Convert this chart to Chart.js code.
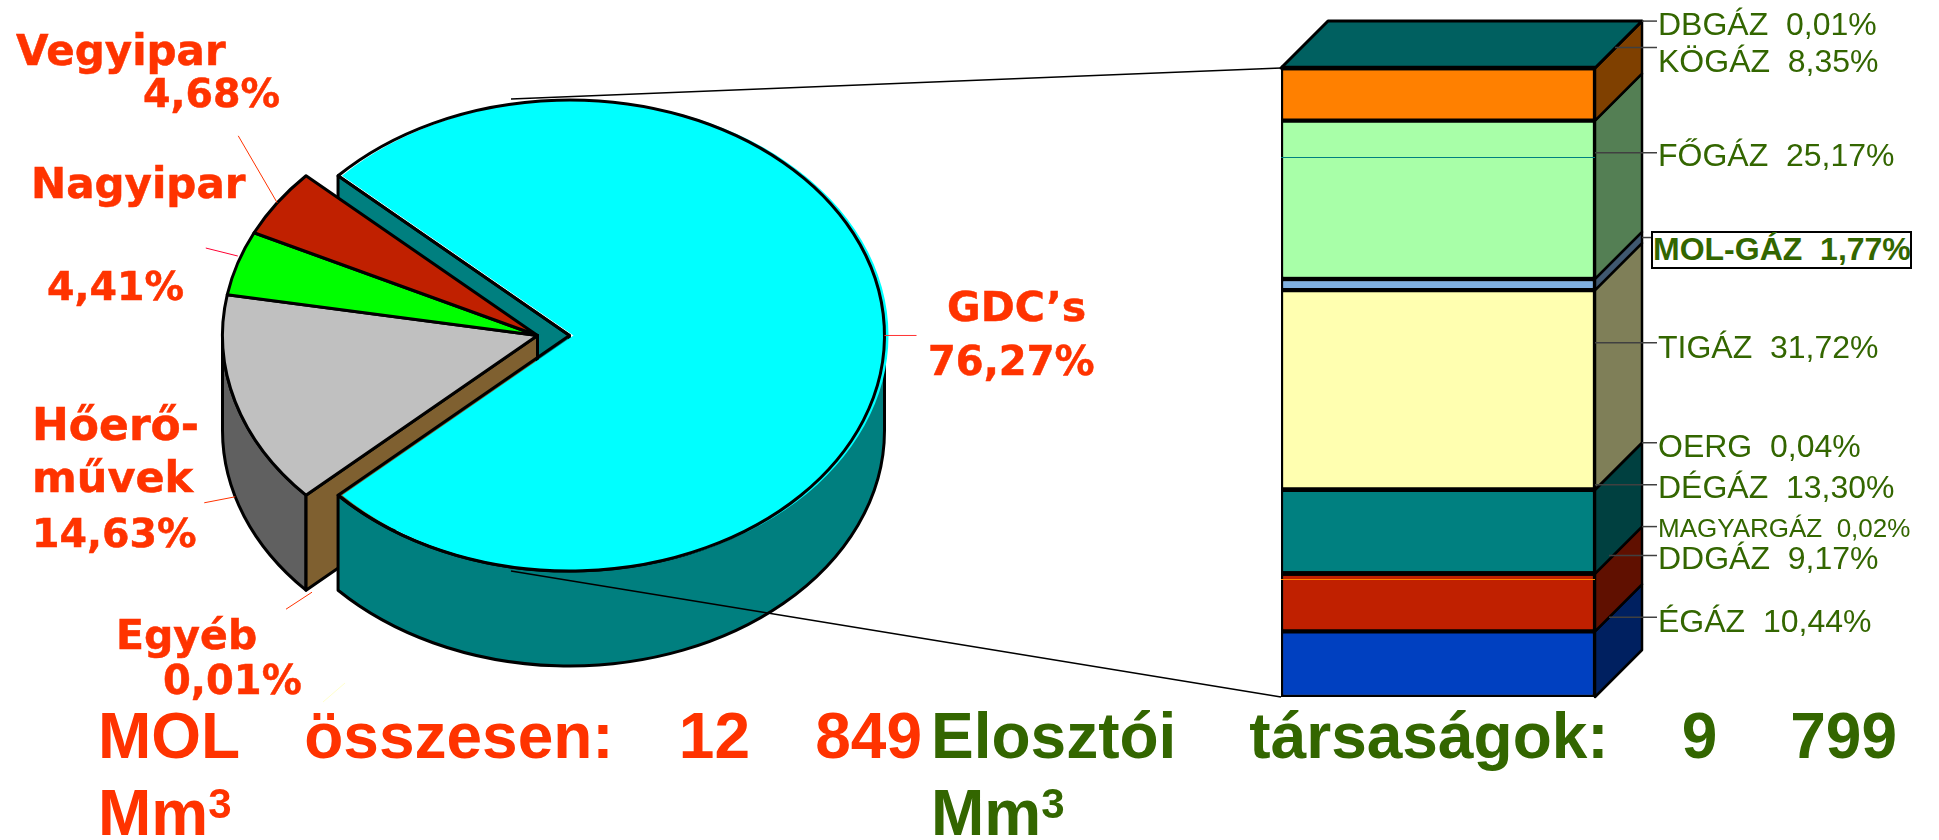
<!DOCTYPE html>
<html lang="hu">
<head>
<meta charset="utf-8">
<title>MOL és elosztói társaságok</title>
<script src="https://cdn.jsdelivr.net/npm/chart.js@4"></script>
<style>
html,body{margin:0;padding:0;background:#fff;width:1939px;height:840px;overflow:hidden}
canvas{position:absolute;left:0;top:0}
.t{position:absolute;white-space:pre;margin:0}
.pie{font:bold 41px "DejaVu Sans",sans-serif;color:#FF3300;-webkit-text-stroke:0.5px #FF3300}
.bar{font:32px "Liberation Sans",Arial,sans-serif;color:#336600}
.foot{position:absolute;font:bold 64px/77px "Liberation Sans",Arial,sans-serif}
.foot div{text-align:justify;text-align-last:justify;white-space:normal}
.foot div+div{text-align:left;text-align-last:left}
.foot span{font-size:42px;position:relative;top:-17px}
#box{position:absolute;border:2px solid #000;box-sizing:border-box;background:#fff}
</style>
</head>
<body>
<canvas id="pieCanvas" width="1939" height="840"></canvas>
<canvas id="barCanvas" width="1939" height="840"></canvas>
<div id="box" style="left:1651px;top:231px;width:261px;height:38px"></div>
<script>
// ---- data -----------------------------------------------------------
const pieLabels = ['GDC’s', 'Egyéb', 'Hőerő-\nművek', 'Nagyipar', 'Vegyipar'];
const pieValues = [76.27, 0.01, 14.63, 4.41, 4.68];
const pieColors = ['#00FFFF', '#FFC060', '#C0C0C0', '#00FF00', '#C02000'];

const barLabels = ['ÉGÁZ', 'DDGÁZ', 'MAGYARGÁZ', 'DÉGÁZ', 'OERG', 'TIGÁZ', 'MOL-GÁZ', 'FŐGÁZ', 'KÖGÁZ', 'DBGÁZ'];
const barValues = [10.44, 9.17, 0.02, 13.30, 0.04, 31.72, 1.77, 25.17, 8.35, 0.01];
const barColors = ['#0040C0', '#C02000', '#FF8000', '#008080', '#CCFFCC', '#FFFFB0', '#80B0E0', '#A8FFA8', '#FF8000', '#00C0C0'];

const footLeft = ['MOL összesen: 12 849', 'Mm', '3'];
const footRight = ['Elosztói társaságok: 9 799', 'Mm', '3'];

// ---- layout ---------------------------------------------------------
const PIE_TILT = 0.7476, PIE_DEPTH = 95, PIE_RADIUS = 315, PIE_ROTATION = 312.71;
const EXPLODE = [32, 0, 0, 0, 0];
const FILL_SHIFT = [4, 0, 0, 0, 0];
// [start dx, start dy, run x, run y, colour]
const PIE_LEADERS = [
  [0, 0, 32, 0, '#FF3333'],
  [6, 2, -26, 17, '#FF3300'],
  [0, 0, -31, 6, '#FF3300'],
  [0, -7, -32, -8, '#FF0033'],
  [0, 0, -39, -67, '#FF3300']
];
const STRAY_LEADER = [[323, 702], [345, 683], '#FFFFCC'];
// [x, baseline, font size] for each text line
const PIE_TEXT = [
  [[947, 321, 41], [928, 375, 40]],
  [[116, 649, 41], [163, 694, 40]],
  [[32, 440, 44], [32, 492, 43], [32, 547, 39.5]],
  [[31, 198, 42], [47, 300, 39.5]],
  [[16, 65, 42], [143, 107, 39.5]]
];
const BAR_DX = 47, BAR_DY = 47, LEADER_END = 1657;
const BAR_LEADER_INSET = [14, 14, 47, 0, 47, 0, 47, 0, 20, 47];
const BAR_TEXT_BASE = [632, 569, 537, 498, 457, 358, 260, 166, 72, 35];
const BAR_TEXT_X = [1658, 1658, 1658, 1658, 1658, 1658, 1651, 1658, 1658, 1658];
const HAIRLINES = [[85.85, '#008080'], [18.76, '#FF8000']];

// ---- helpers --------------------------------------------------------
const fmt = v => v.toFixed(2).replace('.', ',') + '%';
function half(hex) {
  const n = parseInt(hex.slice(1), 16);
  return `rgb(${(n >> 16) >> 1},${((n >> 8) & 255) >> 1},${(n & 255) >> 1})`;
}
function placeText(text, x, base, cls, extra) {
  const d = document.createElement('div');
  d.className = 't ' + cls;
  d.textContent = text;
  if (extra) d.style.cssText = extra;
  d.style.left = x + 'px';
  d.style.top = '0px';
  const probe = document.createElement('i');
  probe.style.cssText = 'display:inline-block;width:0;height:0';
  d.appendChild(probe);
  document.body.appendChild(d);
  d.style.top = (base - probe.getBoundingClientRect().bottom) + 'px';
}

// ---- pie ------------------------------------------------------------
function polygon(ctx, pts, fill) {
  ctx.beginPath();
  pts.forEach((p, i) => i ? ctx.lineTo(p[0], p[1]) : ctx.moveTo(p[0], p[1]));
  ctx.closePath();
  ctx.fillStyle = fill;
  ctx.fill();
  ctx.stroke();
}
function radialFace(ctx, cx, cy, R, a, fill) {
  const px = cx + R * Math.cos(a), py = cy + R * PIE_TILT * Math.sin(a);
  polygon(ctx, [[cx, cy], [px, py], [px, py + PIE_DEPTH], [cx, cy + PIE_DEPTH]], fill);
}
function outerWall(ctx, cx, cy, R, a0, a1, fill) {
  for (let k = 0; k < 3; k++) {
    const s = Math.max(a0, 2 * k * Math.PI), e = Math.min(a1, (2 * k + 1) * Math.PI);
    if (e <= s) continue;
    ctx.beginPath();
    ctx.ellipse(cx, cy, R, R * PIE_TILT, 0, s, e);
    ctx.ellipse(cx, cy + PIE_DEPTH, R, R * PIE_TILT, 0, e, s, true);
    ctx.closePath();
    ctx.fillStyle = fill;
    ctx.fill();
    ctx.stroke();
  }
}
const pie3d = {
  id: 'pie3d',
  beforeDatasetsDraw(chart) {
    const ctx = chart.ctx, arcs = chart.getDatasetMeta(0).data;
    ctx.save();
    ctx.strokeStyle = '#000';
    ctx.lineWidth = 3;
    ctx.lineJoin = 'round';
    const cxOf = i => arcs[i].x + EXPLODE[i];
    // hidden faces first, nearest last
    radialFace(ctx, cxOf(0), arcs[0].y, arcs[0].outerRadius, arcs[0].startAngle, half(pieColors[0]));
    [2, 3, 4].forEach(i => outerWall(ctx, cxOf(i), arcs[i].y, arcs[i].outerRadius, arcs[i].startAngle, arcs[i].endAngle, half(pieColors[i])));
    radialFace(ctx, cxOf(1), arcs[1].y, arcs[1].outerRadius, arcs[1].startAngle, half(pieColors[1]));
    outerWall(ctx, cxOf(0), arcs[0].y, arcs[0].outerRadius, arcs[0].startAngle, arcs[0].endAngle, half(pieColors[0]));
    // top faces through the library's own arc elements
    arcs.forEach((arc, i) => {
      ctx.save();
      ctx.translate(arc.x + EXPLODE[i] + FILL_SHIFT[i], arc.y);
      ctx.scale(1, PIE_TILT);
      ctx.translate(-arc.x, -arc.y);
      arc.draw(ctx);
      ctx.restore();
      if (pieValues[i] < 0.1) return;
      ctx.beginPath();
      ctx.moveTo(cxOf(i), arc.y);
      ctx.ellipse(cxOf(i), arc.y, arc.outerRadius, arc.outerRadius * PIE_TILT, 0, arc.startAngle, arc.endAngle);
      ctx.closePath();
      ctx.stroke();
    });
    // leaders
    ctx.lineWidth = 1;
    arcs.forEach((arc, i) => {
      const mid = (arc.startAngle + arc.endAngle) / 2;
      const L = PIE_LEADERS[i];
      const x = cxOf(i) + arc.outerRadius * Math.cos(mid) + L[0];
      let y = arc.y + arc.outerRadius * PIE_TILT * Math.sin(mid) + L[1];
      if (Math.sin(mid) > 0.01) y += PIE_DEPTH;
      ctx.beginPath();
      ctx.moveTo(x, y);
      ctx.lineTo(x + L[2], y + L[3]);
      ctx.strokeStyle = L[4];
      ctx.stroke();
    });
    ctx.beginPath();
    ctx.moveTo(STRAY_LEADER[0][0], STRAY_LEADER[0][1]);
    ctx.lineTo(STRAY_LEADER[1][0], STRAY_LEADER[1][1]);
    ctx.strokeStyle = STRAY_LEADER[2];
    ctx.stroke();
    ctx.restore();
    return false;
  }
};
const pieChart = new Chart(document.getElementById('pieCanvas'), {
  type: 'pie',
  data: {
    labels: pieLabels,
    datasets: [{ data: pieValues, backgroundColor: pieColors, borderWidth: 0, radius: PIE_RADIUS }]
  },
  options: {
    responsive: false,
    animation: false,
    rotation: PIE_ROTATION,
    radius: PIE_RADIUS,
    layout: { padding: { left: 0, top: 0, right: 864, bottom: 169 } },
    plugins: { legend: { display: false }, tooltip: { enabled: false } }
  },
  plugins: [pie3d]
});

// ---- stacked bar ----------------------------------------------------
const bar3d = {
  id: 'bar3d',
  afterDatasetsDraw(chart) {
    const ctx = chart.ctx, yS = chart.scales.y;
    const bars = chart.data.datasets.map((d, i) => chart.getDatasetMeta(i).data[0]);
    ctx.save();
    ctx.strokeStyle = '#000';
    ctx.lineJoin = 'round';
    ctx.lineWidth = 2.5;
    const right = bars[0].x + bars[0].width / 2, left = bars[0].x - bars[0].width / 2;
    // side wall, bottom to top
    bars.forEach((b, i) => {
      polygon(ctx, [[right, b.base], [right + BAR_DX, b.base - BAR_DY], [right + BAR_DX, b.y - BAR_DY], [right, b.y]], half(barColors[i]));
    });
    // top face
    const top = bars[bars.length - 1];
    ctx.lineWidth = 3;
    polygon(ctx, [[left, top.y], [left + BAR_DX, top.y - BAR_DY], [right + BAR_DX, top.y - BAR_DY], [right, top.y]], half(barColors[bars.length - 1]));
    // very thin segments read as a heavy rule
    ctx.lineWidth = 4.5;
    bars.forEach(b => {
      if (b.base - b.y < 3) {
        ctx.beginPath();
        ctx.moveTo(left, (b.base + b.y) / 2);
        ctx.lineTo(right, (b.base + b.y) / 2);
        ctx.stroke();
      }
    });
    // hairlines across the front
    ctx.lineWidth = 1;
    HAIRLINES.forEach(h => {
      const y = Math.round(yS.getPixelForValue(h[0])) + 0.5;
      ctx.strokeStyle = h[1];
      ctx.beginPath();
      ctx.moveTo(left, y);
      ctx.lineTo(right, y);
      ctx.stroke();
    });
    // label leaders
    ctx.strokeStyle = '#404040';
    ctx.lineWidth = 1.5;
    bars.forEach((b, i) => {
      const y = (b.base + b.y) / 2 - BAR_DY;
      ctx.beginPath();
      ctx.moveTo(right + BAR_LEADER_INSET[i], y);
      ctx.lineTo(BAR_TEXT_X[i] > LEADER_END ? LEADER_END : BAR_TEXT_X[i] + 1, y);
      ctx.stroke();
    });
    // connectors from the pie to the column
    const arc = pieChart.getDatasetMeta(0).data[0];
    const ry = arc.outerRadius * PIE_TILT, startX = arc.x - 26.5;
    ctx.strokeStyle = '#000';
    ctx.lineWidth = 1.3;
    ctx.beginPath();
    ctx.moveTo(startX, arc.y - ry - 1);
    ctx.lineTo(left, yS.getPixelForValue(100));
    ctx.moveTo(startX, arc.y + ry);
    ctx.lineTo(left, yS.getPixelForValue(0));
    ctx.stroke();
    ctx.restore();
  }
};
new Chart(document.getElementById('barCanvas'), {
  type: 'bar',
  data: {
    labels: ['Elosztói társaságok'],
    datasets: barLabels.map((name, i) => ({
      label: name,
      data: [barValues[i]],
      backgroundColor: barColors[i],
      borderColor: '#000',
      borderWidth: { top: 2.5, bottom: 2.5, left: 2.5, right: 2.5 },
      borderSkipped: false,
      barPercentage: 1,
      categoryPercentage: 1
    }))
  },
  options: {
    responsive: false,
    animation: false,
    layout: { padding: { left: 1281, right: 344, top: 68, bottom: 143 } },
    scales: {
      x: { stacked: true, display: false },
      y: { stacked: true, display: false, min: 0, max: 100 }
    },
    plugins: { legend: { display: false }, tooltip: { enabled: false } }
  },
  plugins: [bar3d]
});

// ---- text -----------------------------------------------------------
pieLabels.forEach((name, i) => {
  const lines = name.split('\n').concat(fmt(pieValues[i]));
  lines.forEach((line, j) => placeText(line, PIE_TEXT[i][j][0], PIE_TEXT[i][j][1], 'pie', 'font-size:' + PIE_TEXT[i][j][2] + 'px'));
});
barLabels.forEach((name, i) => {
  const bold = name === 'MOL-GÁZ', small = name === 'MAGYARGÁZ';
  placeText(name + '  ' + fmt(barValues[i]), BAR_TEXT_X[i] + (bold ? 2 : 0), BAR_TEXT_BASE[i], 'bar',
    bold ? 'font-weight:bold' : small ? 'font-size:26px' : '');
});
function foot(parts, left, width, color, top) {
  const w = document.createElement('div');
  w.className = 'foot';
  w.style.cssText = `left:${left}px;top:${top}px;width:${width}px;color:${color}`;
  const a = document.createElement('div'); a.textContent = parts[0];
  const b = document.createElement('div'); b.textContent = parts[1];
  const s = document.createElement('span'); s.textContent = parts[2];
  b.appendChild(s);
  w.append(a, b);
  document.body.appendChild(w);
}
foot(footLeft, 98, 824, '#FF3300', 698);
foot(footRight, 931, 966, '#336600', 698);
</script>
</body>
</html>
